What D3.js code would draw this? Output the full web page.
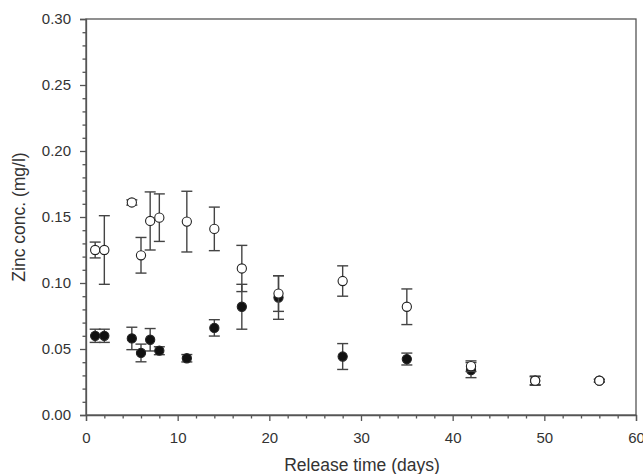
<!DOCTYPE html>
<html><head><meta charset="utf-8">
<script src="https://cdn.jsdelivr.net/npm/d3@7"></script>
<style>body{margin:0;background:#fff;} text{font-family:"Liberation Sans",Arial,sans-serif;fill:#333;}</style>
</head><body>
<svg id="c" width="643" height="474"></svg>
<script>
const days = [1, 2, 5, 6, 7, 8, 11, 14, 17, 21, 28, 35, 42, 49, 56];
const openValues = [0.125, 0.125, 0.161, 0.121, 0.147, 0.1495, 0.1465, 0.141, 0.111, 0.092, 0.1015, 0.082, 0.037, 0.026, 0.026];
const openErrors = [0.006, 0.026, 0.002, 0.0135, 0.022, 0.018, 0.023, 0.0165, 0.0175, 0.0135, 0.0115, 0.0135, 0.004, 0.0035, 0.001];
const filledValues = [0.060, 0.060, 0.058, 0.047, 0.057, 0.0487, 0.043, 0.066, 0.082, 0.089, 0.0443, 0.0424, 0.034, 0.026, 0.026];
const filledErrors = [0.005, 0.005, 0.0085, 0.0067, 0.0085, 0.003, 0.0028, 0.0062, 0.017, 0.0165, 0.0098, 0.0045, 0.0057, 0.003, 0.001];
const xTicks = [0, 10, 20, 30, 40, 50, 60];
const yTicks = [0.00, 0.05, 0.10, 0.15, 0.20, 0.25, 0.30];
const xTitle = "Release time (days)";
const yTitle = "Zinc conc. (mg/l)";

const svg = d3.select("#c");
const L = 86, R = 636, T = 19, B = 415;
const x = d3.scaleLinear().domain([0, 60]).range([L, R]);
const y = d3.scaleLinear().domain([0, 0.30]).range([B, T]);
const axisColor = "#555";

// frame
svg.append("rect").attr("x", L).attr("y", T).attr("width", R - L).attr("height", B - T)
  .attr("fill", "none").attr("stroke", axisColor).attr("stroke-width", 1.3);

const xMinor = d3.range(0, 61, 2).filter(v => v % 10 !== 0);
const yMinor = d3.range(0, 31, 1).map(v => v / 100).filter((v, i) => i % 5 !== 0);
svg.append("g").attr("transform", `translate(0,${B})`)
  .call(d3.axisBottom(x).tickValues(xTicks).tickFormat(d3.format("d")).tickSize(6).tickPadding(11));
svg.append("g").attr("transform", `translate(${L},0)`)
  .call(d3.axisLeft(y).tickValues(yTicks).tickFormat(d3.format(".2f")).tickSize(6).tickPadding(9));
svg.append("g").attr("transform", `translate(0,${B})`)
  .call(d3.axisBottom(x).tickValues(xMinor).tickFormat("").tickSize(3.5))
  .call(g => g.select(".domain").remove());
svg.append("g").attr("transform", `translate(${L},0)`)
  .call(d3.axisLeft(y).tickValues(yMinor).tickFormat("").tickSize(3.5))
  .call(g => g.select(".domain").remove());
svg.selectAll(".domain").attr("stroke", axisColor).attr("stroke-width", 1.3);
svg.selectAll(".tick line").attr("stroke", axisColor).attr("stroke-width", 1.3);
svg.selectAll(".tick text").attr("font-size", 15).attr("fill", "#333")
  .attr("font-family", "'Liberation Sans', Arial, sans-serif");

// titles
svg.append("text").attr("x", (L + R) / 2 + 1).attr("y", 470.5).attr("text-anchor", "middle")
  .attr("font-size", 17.5).text(xTitle);
svg.append("text").attr("transform", `translate(25,${(T + B) / 2}) rotate(-90)`)
  .attr("text-anchor", "middle").attr("font-size", 17.5).text(yTitle);

function series(vals, errs, fill) {
  const data = days.map((d, i) => ({d, v: vals[i], e: errs[i]}));
  const g = svg.append("g");
  const eb = g.selectAll("g.eb").data(data).join("g").attr("stroke", "#444").attr("stroke-width", 1.4);
  eb.append("line").attr("x1", p => x(p.d)).attr("x2", p => x(p.d))
    .attr("y1", p => y(p.v - p.e)).attr("y2", p => y(p.v + p.e));
  [-1, 1].forEach(s => {
    eb.append("line").attr("x1", p => x(p.d) - 5.5).attr("x2", p => x(p.d) + 5.5)
      .attr("y1", p => y(p.v + s * p.e)).attr("y2", p => y(p.v + s * p.e));
  });
  g.selectAll("circle").data(data).join("circle")
    .attr("cx", p => x(p.d)).attr("cy", p => y(p.v)).attr("r", 4.6)
    .attr("fill", fill).attr("stroke", "#222").attr("stroke-width", 1.1);
}
series(filledValues, filledErrors, "#111");
series(openValues, openErrors, "#fff");
</script>
</body></html>
